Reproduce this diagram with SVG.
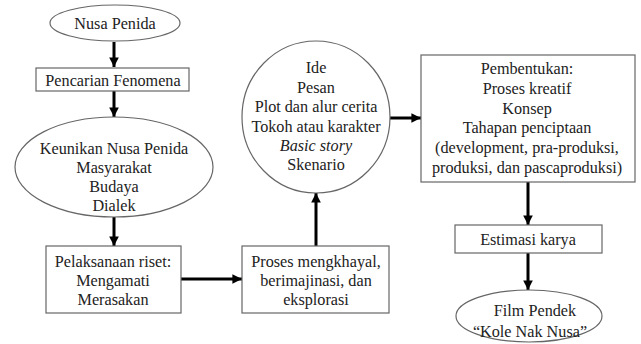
<svg xmlns="http://www.w3.org/2000/svg" width="641" height="344" viewBox="0 0 641 344">
<style>
.shape{fill:#fff;stroke:#666;stroke-width:1.2}
.t{font-family:'Liberation Serif','Times New Roman',serif;font-size:16.2px;fill:#222;text-anchor:middle}
.c{stroke:#000;stroke-width:3;fill:none}
</style>
<defs>
<marker id="ah" viewBox="0 0 10 10" refX="10" refY="5" markerWidth="3.2" markerHeight="3.2" markerUnits="strokeWidth" orient="auto">
<path d="M0,0 L10,5 L0,10 Z" fill="#000"/>
</marker>
</defs>
<rect width="641" height="344" fill="#fff"/>
<g id="connectors">
<line class="c" x1="114" y1="42" x2="114" y2="67" marker-end="url(#ah)"/>
<line class="c" x1="114" y1="91" x2="114" y2="117" marker-end="url(#ah)"/>
<line class="c" x1="114" y1="217" x2="114" y2="246" marker-end="url(#ah)"/>
<line class="c" x1="181" y1="279" x2="242" y2="279" marker-end="url(#ah)"/>
<line class="c" x1="316" y1="246" x2="316" y2="193" marker-end="url(#ah)"/>
<line class="c" x1="390" y1="118" x2="421" y2="118" marker-end="url(#ah)"/>
<line class="c" x1="528" y1="182" x2="528" y2="225" marker-end="url(#ah)"/>
<line class="c" x1="528" y1="253" x2="528" y2="290" marker-end="url(#ah)"/>
</g>
<g id="nusa-penida">
<ellipse class="shape" cx="115" cy="23" rx="65" ry="18"/>
<text class="t" x="115" y="29">Nusa Penida</text>
</g>
<g id="pencarian">
<rect class="shape" x="36" y="68" width="153" height="23"/>
<text class="t" x="113" y="86">Pencarian Fenomena</text>
</g>
<g id="keunikan">
<ellipse class="shape" cx="114" cy="167" rx="99" ry="50"/>
<text class="t" x="114" y="154">Keunikan Nusa Penida</text>
<text class="t" x="114" y="173">Masyarakat</text>
<text class="t" x="114" y="192">Budaya</text>
<text class="t" x="114" y="211">Dialek</text>
</g>
<g id="pelaksanaan">
<rect class="shape" x="46" y="246" width="135" height="67"/>
<text class="t" x="113" y="267">Pelaksanaan riset:</text>
<text class="t" x="113" y="286">Mengamati</text>
<text class="t" x="113" y="305">Merasakan</text>
</g>
<g id="proses">
<rect class="shape" x="242" y="246" width="147" height="67"/>
<text class="t" x="316" y="267">Proses mengkhayal,</text>
<text class="t" x="316" y="286">berimajinasi, dan</text>
<text class="t" x="316" y="305">eksplorasi</text>
</g>
<g id="ide">
<ellipse class="shape" cx="316" cy="117" rx="74" ry="76"/>
<text class="t" x="316" y="73">Ide</text>
<text class="t" x="316" y="93">Pesan</text>
<text class="t" x="316" y="112">Plot dan alur cerita</text>
<text class="t" x="316" y="132">Tokoh atau karakter</text>
<text class="t" x="316" y="151" font-style="italic">Basic story</text>
<text class="t" x="316" y="170">Skenario</text>
</g>
<g id="pembentukan">
<rect class="shape" x="421" y="55" width="214" height="127"/>
<text class="t" x="527" y="74">Pembentukan:</text>
<text class="t" x="527" y="94">Proses kreatif</text>
<text class="t" x="527" y="114">Konsep</text>
<text class="t" x="527" y="133">Tahapan penciptaan</text>
<text class="t" x="527" y="153">(development, pra-produksi,</text>
<text class="t" x="527" y="173">produksi, dan pascaproduksi)</text>
</g>
<g id="estimasi">
<rect class="shape" x="455" y="225" width="147" height="28"/>
<text class="t" x="528" y="245">Estimasi karya</text>
</g>
<g id="film">
<ellipse class="shape" cx="529" cy="316" rx="73" ry="26"/>
<text class="t" x="535" y="316">Film Pendek</text>
<text class="t" x="530" y="337">“Kole Nak Nusa”</text>
</g>
</svg>
